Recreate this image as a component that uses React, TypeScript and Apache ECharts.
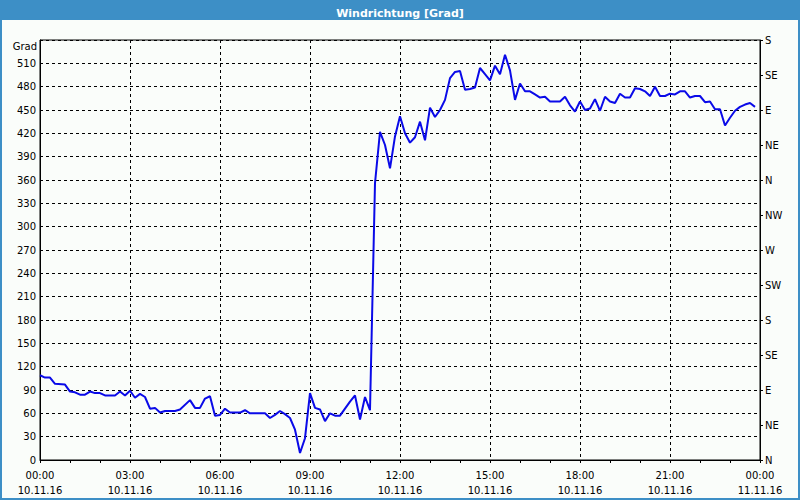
import React, { useEffect, useRef } from "react";
import * as echarts from "echarts";

const times = [
  "00:00","00:10","00:20","00:30","00:50","01:00","01:10","01:20","01:30","01:40","01:50","02:00","02:10","02:30","02:40","02:50",
  "03:00","03:10","03:20","03:30","03:40","03:50","04:00","04:10","04:30","04:40","05:00","05:10","05:20","05:30","05:40","05:50",
  "06:00","06:10","06:20","06:40","06:50","07:00","07:30","07:40","07:50","08:00","08:10","08:20","08:30","08:40","08:50",
  "09:00","09:10","09:20","09:30","09:40","09:50","10:00","10:10","10:20","10:30","10:40","10:50","11:00","11:10","11:20","11:30","11:40","11:50",
  "12:00","12:10","12:20","12:30","12:40","12:50","13:00","13:10","13:20","13:30","13:40","13:50","14:00","14:10","14:20","14:30","14:40","14:50",
  "15:00","15:10","15:20","15:30","15:40","15:50","16:00","16:10","16:20","16:30","16:40","16:50","17:00","17:20","17:30","17:40","17:50",
  "18:00","18:10","18:20","18:30","18:40","18:50","19:00","19:10","19:20","19:30","19:40","19:50","20:00","20:10","20:20","20:30","20:40","20:50",
  "21:00","21:10","21:20","21:30","21:40","21:50","22:00","22:10","22:20","22:30","22:40","22:50","23:00","23:10","23:20","23:30","23:40","23:50"
];

const direction = [
  109,106,106,98,97,88,87,84,84,88,86,86,83,83,88,83,
  89,80,85,81,66,67,61,63,63,65,77,67,67,79,82,57,
  58,66,61,61,64,60,60,54,58,63,59,54,39,9,28,
  86,67,65,50,60,57,57,66,75,83,52,81,64,356,422,405,375,416,
  442,420,408,415,435,411,453,441,450,463,491,499,500,476,477,479,504,496,
  488,507,496,521,501,463,484,474,474,470,466,467,461,461,467,456,448,
  461,450,452,464,449,467,461,459,471,466,466,478,477,474,468,480,468,468,
  471,470,474,474,466,468,468,460,461,451,451,430,440,449,454,457,459,454
];

const leftTicks = [0,30,60,90,120,150,180,210,240,270,300,330,360,390,420,450,480,510,540];
const compassLabels = ["N","NE","E","SE","S","SW","W","NW","N","NE","E","SE","S"];
const dayLabels = ["10.11.16","11.11.16"];
const titleText = "Windrichtung [Grad]";
const unitText = "Grad";

function toHours(t: string): number {
  const [h, m] = t.split(":").map(Number);
  return h + m / 60;
}

export default function App() {
  const ref = useRef<HTMLDivElement>(null);
  useEffect(() => {
    if (!ref.current) return;
    const chart = echarts.init(ref.current, null, { renderer: "svg" });
    const font = "DejaVu Sans";
    const data = times.map((t, i) => [toHours(t), direction[i]]);
    chart.setOption({
      animation: false,
      backgroundColor: "#fafdfa",
      textStyle: { fontFamily: font },
      title: {
        text: titleText,
        left: "center",
        top: 3,
        textStyle: { color: "#ffffff", fontSize: 11, fontWeight: "bold", fontFamily: font },
        z: 10,
      },
      graphic: [
        { type: "rect", shape: { x: 0, y: 0, width: 800, height: 20 }, style: { fill: "#3d8fc6" }, z: 0 },
        { type: "rect", shape: { x: 1, y: 0, width: 798, height: 499 }, style: { fill: "none", stroke: "#3d8fc6", lineWidth: 2 }, z: 0 },
        { type: "text", x: 37, y: 46, style: { text: unitText, fill: "#000", font: `10px '${font}'`, align: "right", verticalAlign: "middle" }, z: 10 },
      ],
      grid: { left: 40, right: 40, top: 40, bottom: 40, show: true, borderColor: "#000", borderWidth: 1, backgroundColor: "transparent" },
      xAxis: {
        type: "value",
        min: 0,
        max: 24,
        interval: 3,
        axisLine: { show: true, lineStyle: { color: "#000", width: 1 } },
        axisTick: { show: true, length: 3, lineStyle: { color: "#000" } },
        minorTick: { show: true, splitNumber: 3, length: 3, lineStyle: { color: "#000" } },
        splitLine: { show: true, lineStyle: { color: "#000", type: [3, 3], width: 1 } },
        axisLabel: {
          color: "#000",
          fontSize: 10,
          fontFamily: font,
          margin: 8,
          lineHeight: 15,
          formatter: (v: number) => {
            const day = v >= 24 ? dayLabels[1] : dayLabels[0];
            const h = v % 24;
            return `${String(h).padStart(2, "0")}:00\n${day}`;
          },
        },
      },
      yAxis: [
        {
          type: "value",
          min: 0,
          max: 540,
          interval: 30,
          position: "left",
          axisLine: { show: true, lineStyle: { color: "#000" } },
          axisTick: { show: false },
          splitLine: { show: true, lineStyle: { color: "#000", type: [3, 3], width: 1 } },
          axisLabel: {
            color: "#000",
            fontSize: 10,
            fontFamily: font,
            margin: 4,
            formatter: (v: number) => (leftTicks.indexOf(v) >= 0 && v !== 540 ? String(v) : ""),
          },
        },
        {
          type: "value",
          min: 0,
          max: 540,
          interval: 45,
          position: "right",
          axisLine: { show: true, lineStyle: { color: "#000" } },
          axisTick: { show: true, length: 3, lineStyle: { color: "#000" } },
          splitLine: { show: false },
          axisLabel: {
            color: "#000",
            fontSize: 10,
            fontFamily: font,
            margin: 5,
            formatter: (v: number) => compassLabels[Math.round(v / 45)] ?? "",
          },
        },
      ],
      series: [
        {
          type: "line",
          data,
          yAxisIndex: 0,
          showSymbol: false,
          symbol: "none",
          lineStyle: { color: "#0a0ae8", width: 2 },
          z: 5,
        },
      ],
    });
    return () => chart.dispose();
  }, []);
  return <div ref={ref} style={{ position: "fixed", left: 0, top: 0, width: 800, height: 500 }} />;
}
